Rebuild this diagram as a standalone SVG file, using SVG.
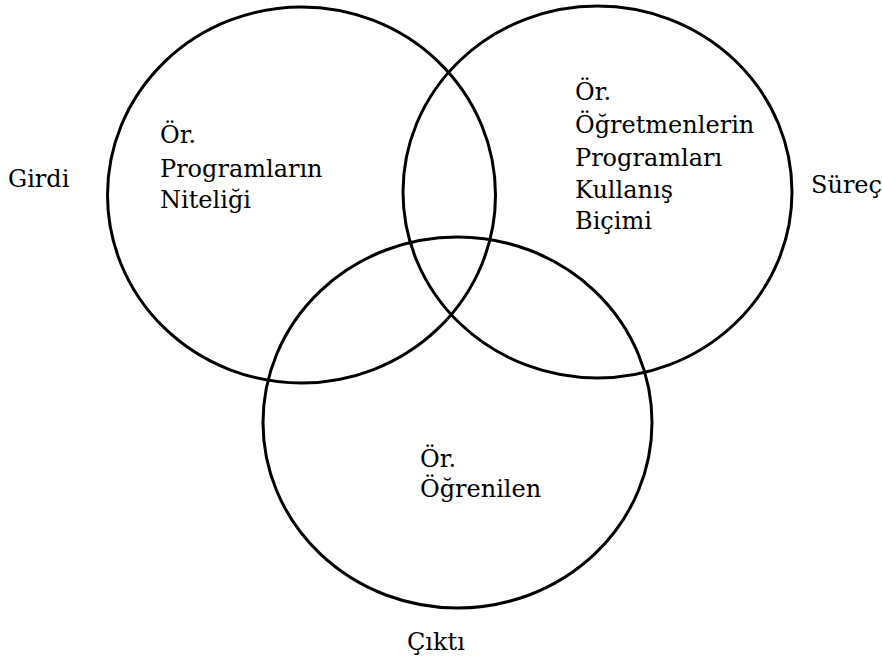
<svg xmlns="http://www.w3.org/2000/svg" width="882" height="664" viewBox="0 0 882 664">
<style>
.c{fill:none;stroke:#000;stroke-width:3}
text{font-family:"DejaVu Serif","Liberation Serif",serif;font-size:24px;fill:#000}
</style>
<rect width="882" height="664" fill="#fff"/>
<g id="girdi">
<ellipse class="c" cx="301.5" cy="195" rx="194" ry="188"/>
<text x="160" y="143">Ör.</text>
<text x="160" y="177">Programların</text>
<text x="160" y="208">Niteliği</text>
<text x="8" y="187">Girdi</text>
</g>
<g id="surec">
<ellipse class="c" cx="597.5" cy="192" rx="194.5" ry="186"/>
<text x="575" y="100">Ör.</text>
<text x="575" y="133">Öğretmenlerin</text>
<text x="575" y="166">Programları</text>
<text x="575" y="198">Kullanış</text>
<text x="575" y="229">Biçimi</text>
<text x="811" y="193">Süreç</text>
</g>
<g id="cikti">
<ellipse class="c" cx="457.5" cy="422.5" rx="194.5" ry="185.5"/>
<text x="420" y="467">Ör.</text>
<text x="420" y="497">Öğrenilen</text>
<text x="407" y="650">Çıktı</text>
</g>
<g id="connectors"/>
</svg>
